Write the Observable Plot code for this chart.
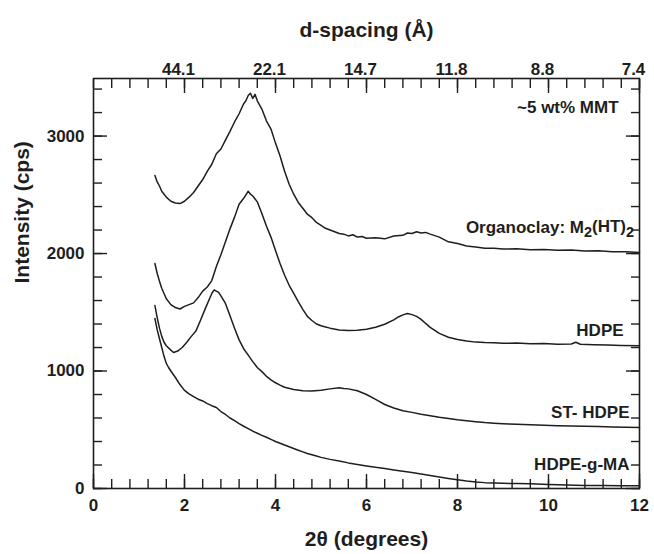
<!DOCTYPE html>
<html>
<head>
<meta charset="utf-8">
<script src="https://cdn.jsdelivr.net/npm/d3@7"></script>
<script src="https://cdn.jsdelivr.net/npm/@observablehq/plot@0.6"></script>
<style>
  html, body { margin: 0; padding: 0; background: #fff; }
</style>
</head>
<body>
<div id="chart"></div>
<script>
// ---- data (2θ in degrees, intensity in cps) ----
const organoclay = [
  [1.35,2665],[1.40,2610],[1.45,2575],[1.50,2530],[1.55,2505],[1.60,2480],[1.70,2445],[1.80,2430],[1.90,2425],
  [2.00,2445],[2.10,2480],[2.20,2520],[2.30,2575],[2.40,2630],[2.50,2700],[2.60,2760],[2.70,2850],[2.80,2890],
  [2.90,2965],[3.00,3040],[3.10,3120],[3.20,3190],[3.30,3275],[3.35,3300],[3.40,3345],[3.45,3365],[3.50,3320],
  [3.55,3355],[3.60,3300],[3.70,3230],[3.80,3130],[3.90,3060],[4.00,2940],[4.10,2830],[4.20,2700],[4.30,2590],
  [4.40,2505],[4.50,2435],[4.60,2385],[4.70,2335],[4.80,2305],[4.90,2265],[5.00,2240],[5.10,2215],[5.20,2200],
  [5.30,2185],[5.40,2170],[5.50,2165],[5.60,2150],[5.70,2160],[5.80,2140],[5.90,2145],[6.00,2130],[6.20,2135],
  [6.40,2125],[6.60,2150],[6.80,2155],[6.90,2175],[7.00,2170],[7.10,2185],[7.20,2175],[7.30,2180],[7.40,2165],
  [7.60,2140],[7.80,2100],[8.00,2085],[8.20,2065],[8.40,2055],[8.60,2045],[8.80,2045],[9.00,2038],[9.30,2040],
  [9.60,2033],[9.90,2035],[10.2,2028],[10.5,2030],[10.8,2022],[11.1,2024],[11.4,2016],[11.7,2015],[12.0,2008]
];
const hdpe = [
  [1.35,1915],[1.40,1830],[1.45,1765],[1.50,1705],[1.55,1660],[1.60,1615],[1.70,1565],[1.80,1540],[1.90,1528],
  [2.00,1550],[2.10,1565],[2.20,1580],[2.30,1625],[2.40,1680],[2.50,1715],[2.60,1770],[2.70,1890],[2.80,1990],
  [2.90,2100],[3.00,2210],[3.10,2310],[3.20,2420],[3.30,2470],[3.35,2500],[3.40,2530],[3.45,2505],[3.50,2490],
  [3.60,2440],[3.70,2340],[3.80,2235],[3.90,2140],[4.00,2025],[4.10,1915],[4.20,1815],[4.30,1730],[4.40,1660],
  [4.50,1590],[4.60,1525],[4.70,1465],[4.80,1430],[4.90,1400],[5.00,1385],[5.10,1375],[5.20,1365],[5.40,1350],
  [5.60,1345],[5.80,1348],[6.00,1355],[6.20,1372],[6.40,1398],[6.60,1435],[6.70,1460],[6.80,1478],[6.90,1490],
  [7.00,1480],[7.10,1465],[7.20,1440],[7.30,1405],[7.40,1372],[7.60,1320],[7.80,1288],[8.00,1268],[8.20,1255],
  [8.40,1246],[8.60,1242],[8.80,1240],[9.00,1236],[9.30,1238],[9.60,1232],[9.90,1234],[10.2,1228],[10.5,1230],
  [10.6,1245],[10.7,1228],[11.0,1224],[11.3,1222],[11.6,1218],[12.0,1215]
];
const stHdpe = [
  [1.35,1557],[1.40,1455],[1.45,1365],[1.50,1295],[1.55,1245],[1.60,1215],[1.70,1178],[1.76,1158],[1.85,1170],
  [1.95,1200],[2.05,1245],[2.15,1295],[2.25,1340],[2.35,1430],[2.45,1525],[2.55,1615],[2.60,1660],[2.65,1690],
  [2.70,1680],[2.75,1670],[2.80,1640],[2.90,1575],[3.00,1470],[3.10,1365],[3.20,1265],[3.30,1190],[3.40,1135],
  [3.50,1080],[3.60,1030],[3.70,995],[3.80,955],[3.90,925],[4.00,900],[4.10,880],[4.20,862],[4.40,842],
  [4.60,832],[4.80,830],[5.00,836],[5.20,848],[5.40,858],[5.50,852],[5.60,848],[5.80,832],[6.00,800],
  [6.20,758],[6.40,715],[6.60,685],[6.80,662],[7.00,648],[7.20,632],[7.40,620],[7.60,606],[7.80,596],
  [8.00,585],[8.20,576],[8.40,568],[8.60,561],[8.80,556],[9.00,551],[9.30,546],[9.60,542],[9.90,539],
  [10.2,535],[10.5,533],[10.8,529],[11.1,527],[11.4,524],[11.7,521],[12.0,519]
];
const hdpeGMa = [
  [1.35,1447],[1.40,1350],[1.45,1275],[1.50,1200],[1.55,1125],[1.60,1065],[1.65,1030],[1.70,1000],[1.80,945],
  [1.90,885],[2.00,835],[2.10,805],[2.20,782],[2.30,760],[2.40,745],[2.50,722],[2.60,705],[2.70,690],
  [2.80,655],[2.90,630],[3.00,600],[3.10,578],[3.20,552],[3.30,530],[3.40,510],[3.50,488],[3.60,470],
  [3.70,452],[3.80,436],[3.90,418],[4.00,400],[4.10,385],[4.20,370],[4.30,355],[4.40,340],[4.50,326],
  [4.60,312],[4.70,298],[4.80,287],[4.90,276],[5.00,265],[5.20,248],[5.40,235],[5.60,218],[5.80,205],
  [6.00,192],[6.20,180],[6.40,170],[6.60,158],[6.80,147],[7.00,136],[7.20,123],[7.40,110],[7.60,97],
  [7.80,85],[8.00,74],[8.20,64],[8.40,56],[8.60,50],[8.80,47],[9.00,44],[9.30,42],[9.60,40],
  [10.0,33],[10.4,29],[10.8,26],[11.2,25],[11.6,24],[12.0,24]
];

// labels placed on the chart (text, anchor 2θ, anchor intensity)
const labelTexts = ["~5 wt% MMT", "Organoclay: M2(HT)2", "HDPE", "ST- HDPE", "HDPE-g-MA"];
const labelX = [11.54, 11.88, 11.65, 11.78, 11.78];
const labelY = [3243, 2221, 1345, 650, 200];

// tick values and labels
const bottomTicks = [0, 2, 4, 6, 8, 10, 12];
const topTickPos = [2, 4, 6, 8, 10, 12];
const dSpacingLabels = ["44.1", "22.1", "14.7", "11.8", "8.8", "7.4"];
const leftTicks = [0, 1000, 2000, 3000];
const xMinorTicks = d3.range(0, 12.01, 0.4).map(v => +v.toFixed(1));
const yMinorTicks = d3.range(0, 3401, 200);

const seriesNames = ["Organoclay", "HDPE", "ST-HDPE", "HDPE-g-MA"];
const seriesData = [organoclay, hdpe, stHdpe, hdpeGMa];
const rows = seriesData.flatMap((s, i) => s.map(([x, y]) => ({series: seriesNames[i], x, y})));
const labels = labelTexts.map((t, i) => ({text: t, x: labelX[i], y: labelY[i]}));

const W = 654, H = 554, mL = 93, mR = 15, mT = 78, mB = 66;
const majorLen = 14, minorLen = 9;
const ink = "#1e1e1e";
const blank = () => "";
const tickStyle = {stroke: ink, strokeWidth: 1.4, label: null, tickFormat: blank};

const chart = Plot.plot({
  width: W, height: H,
  marginLeft: mL, marginRight: mR, marginTop: mT, marginBottom: mB,
  style: {fontFamily: "'Liberation Sans', Arial, sans-serif", fontWeight: "bold", color: ink, background: "#fff"},
  x: {domain: [0, 12]},
  y: {domain: [0, 3490]},
  marks: [
    // inward ticks on all four sides
    Plot.axisX({anchor: "bottom", ticks: xMinorTicks, tickSize: -minorLen, ...tickStyle}),
    Plot.axisX({anchor: "bottom", ticks: bottomTicks, tickSize: -majorLen, ...tickStyle}),
    Plot.axisX({anchor: "top", ticks: xMinorTicks, tickSize: -minorLen, ...tickStyle}),
    Plot.axisX({anchor: "top", ticks: topTickPos, tickSize: -majorLen, ...tickStyle}),
    Plot.axisY({anchor: "left", ticks: yMinorTicks, tickSize: -minorLen, ...tickStyle}),
    Plot.axisY({anchor: "left", ticks: leftTicks, tickSize: -majorLen, ...tickStyle}),
    Plot.axisY({anchor: "right", ticks: yMinorTicks, tickSize: -minorLen, ...tickStyle}),
    Plot.axisY({anchor: "right", ticks: leftTicks, tickSize: -majorLen, ...tickStyle}),
    // curves
    Plot.line(rows, {x: "x", y: "y", z: "series", stroke: ink, strokeWidth: 1.5}),
    // frame
    Plot.frame({stroke: ink, strokeWidth: 1.6}),
    // tick labels
    Plot.axisX({anchor: "bottom", ticks: bottomTicks, tickSize: 0, tickPadding: 10, fontSize: 17, label: null}),
    Plot.axisX({anchor: "top", ticks: topTickPos, tickSize: 0, tickPadding: 4, dx: -6, fontSize: 17, label: null,
      tickFormat: d => dSpacingLabels[topTickPos.indexOf(d)]}),
    Plot.axisY({anchor: "left", ticks: leftTicks, tickSize: 0, tickPadding: 9, fontSize: 17, label: null,
      tickFormat: d3.format("d")}),
    // axis titles
    Plot.text(["d-spacing (Å)"], {text: d => d, frameAnchor: "top", dy: -56, fontSize: 21, fill: ink}),
    Plot.text(["2θ (degrees)"], {text: d => d, frameAnchor: "bottom", dy: 57, fontSize: 21, fill: ink}),
    Plot.text(["Intensity (cps)"], {text: d => d, frameAnchor: "left", dx: -71, rotate: -90, fontSize: 21, fill: ink}),
    // series labels
    Plot.text(labels, {x: "x", y: "y", text: "text", textAnchor: "end", fontSize: 17, fill: ink})
  ]
});

// subscripts for M2(HT)2
d3.select(chart).selectAll("text").each(function () {
  const el = d3.select(this);
  if (this.textContent === "Organoclay: M2(HT)2") {
    el.text(null);
    el.append("tspan").text("Organoclay: M");
    el.append("tspan").attr("dy", "0.3em").attr("font-size", "0.85em").text("2");
    el.append("tspan").attr("dy", "-0.3em").text("(HT)");
    el.append("tspan").attr("dy", "0.3em").attr("font-size", "0.85em").text("2");
  }
});

document.getElementById("chart").appendChild(chart);
</script>
</body>
</html>
